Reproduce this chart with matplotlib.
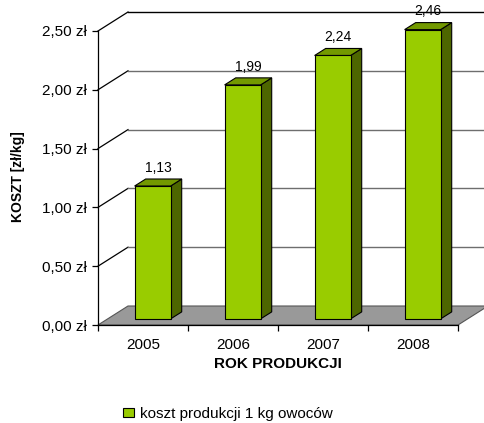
import matplotlib.pyplot as plt
from matplotlib.patches import Polygon, Patch
import numpy as np

plt.rcParams['font.family'] = ['Liberation Sans', 'DejaVu Sans']

# Dane
lata = ['2005', '2006', '2007', '2008']
koszt = [1.13, 1.99, 2.24, 2.46]
etykiety = ['1,13', '1,99', '2,24', '2,46']
seria = 'koszt produkcji 1 kg owoców'
y_ticks = [0.0, 0.5, 1.0, 1.5, 2.0, 2.5]

# Kolory w stylu wykresu 3D z Excela
front = '#99CC00'
bok = '#4D6600'
gora = '#739900'
podloga = '#999999'

W, H = 484, 423
fig = plt.figure(figsize=(W / 100, H / 100), dpi=100)
# obszar wykresu: x 0..4 (kategorie), y 0..2.5 (zł)
px_l, px_r, px_b, px_t = 98, 458, 325, 31
ax = fig.add_axes([px_l / W, 1 - px_b / H, (px_r - px_l) / W, (px_b - px_t) / H])
ax.set_xlim(0, len(lata))
ax.set_ylim(0, 2.5)

# przesunięcie głębi (piksele -> jednostki danych)
sx = len(lata) / (px_r - px_l)
sy = 2.5 / (px_b - px_t)
dx, dy = 30 * sx, 19 * sy

# podłoga
ax.add_patch(Polygon([(0, 0), (len(lata), 0), (len(lata) + dx, dy), (dx, dy)],
                     closed=True, fc=podloga, ec='#555555', lw=0.8,
                     clip_on=False, zorder=1))

# linie siatki: skos na lewej ścianie + linia na tylnej ścianie
for v in y_ticks[1:]:
    ax.plot([0, dx], [v, v + dy], color='black', lw=0.9, clip_on=False, zorder=2)
    kolor = 'black' if v == y_ticks[-1] else '#6e6e6e'
    ax.plot([dx, len(lata) + 2 * dx], [v + dy, v + dy], color=kolor, lw=1.0,
            clip_on=False, zorder=2)

# słupki 3D
szer = 0.4
d0, d1 = 0.32, 0.69
for i, v in enumerate(koszt):
    x0 = i + 0.5 - szer / 2 + d0 * dx
    x1 = x0 + szer
    yb = d0 * dy
    yt = yb + v
    ex = (d1 - d0) * dx
    ey = (d1 - d0) * dy
    kw = dict(closed=True, ec='black', lw=0.8, clip_on=False, zorder=3)
    ax.add_patch(Polygon([(x1, yb), (x1 + ex, yb + ey), (x1 + ex, yt + ey), (x1, yt)],
                         fc=bok, **kw))
    ax.add_patch(Polygon([(x0, yt), (x1, yt), (x1 + ex, yt + ey), (x0 + ex, yt + ey)],
                         fc=gora, **kw))
    ax.add_patch(Polygon([(x0, yb), (x1, yb), (x1, yt), (x0, yt)], fc=front, **kw))
    ax.annotate(etykiety[i], (x0 + szer / 2 + ex / 2, yt + ey), xytext=(0, 3),
                textcoords='offset points', ha='center', va='bottom',
                fontsize=10, zorder=4, annotation_clip=False)

# osie
for s in ['top', 'right']:
    ax.spines[s].set_visible(False)
for s in ['left', 'bottom']:
    ax.spines[s].set_color('black')
    ax.spines[s].set_linewidth(0.9)
    ax.spines[s].set_zorder(5)

ax.set_yticks(y_ticks)
ax.set_yticklabels([f'{v:.2f}'.replace('.', ',') + ' zł' for v in y_ticks], fontsize=11)
ax.set_xticks(np.arange(len(lata) + 1))
ax.set_xticklabels([])
ax.set_xticks(np.arange(len(lata)) + 0.5, minor=True)
ax.set_xticklabels(lata, minor=True, fontsize=11)
ax.tick_params(axis='both', which='major', length=4, width=0.9, direction='out')
ax.tick_params(axis='x', which='minor', length=0, pad=9)
ax.tick_params(axis='y', pad=4)
ax.set_facecolor('none')

fig.text(278 / W, 1 - 364 / H, 'ROK PRODUKCJI', ha='center', va='center',
         fontsize=11, fontweight='bold')
fig.text(18 / W, 1 - 177 / H, 'KOSZT [zł/kg]', ha='center', va='center',
         rotation=90, fontsize=10, fontweight='bold')

fig.legend(handles=[Patch(fc=front, ec='black', lw=0.8)], labels=[seria],
           loc='center', bbox_to_anchor=(228 / W, 1 - 414 / H), frameon=False,
           fontsize=11, handlelength=0.75, handleheight=0.6, handletextpad=0.4)

fig.savefig('out.png', dpi=100)
